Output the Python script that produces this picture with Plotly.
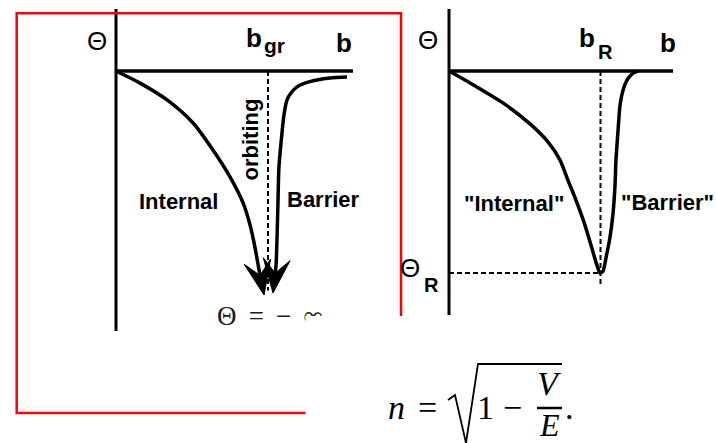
import math
import plotly.graph_objects as go

W, H = 716, 443
SANS = "Liberation Sans, Arial, sans-serif"
SERIF = "Liberation Serif, Times New Roman, serif"

# ---------------- left panel: deflection with orbiting at b_gr ----------------
int_b = [0.000, 0.158, 0.336, 0.507, 0.638, 0.750, 0.836, 0.882, 0.914, 0.941, 0.974]
int_theta = [0.000, -0.054, -0.129, -0.232, -0.353, -0.473, -0.589, -0.688, -0.786, -0.888, -1.000]
bar_b = [1.520, 1.408, 1.322, 1.243, 1.191, 1.151, 1.125, 1.105, 1.092, 1.072, 1.066, 1.059, 1.053, 1.033]
bar_theta = [-0.027, -0.031, -0.040, -0.054, -0.071, -0.098, -0.129, -0.196, -0.277, -0.429, -0.576,
             -0.754, -0.866, -0.991]
b_gr = 1.0
left_b_end = 1.559
left_theta_top, left_theta_bottom = 0.277, -1.161
left_dash_end = -0.98

# ---------------- right panel: rainbow at (b_R, Theta_R) ----------------
rb_b = [0.000, 0.139, 0.356, 0.535, 0.653, 0.733, 0.785, 0.838, 0.891, 0.937, 0.970, 0.997,
        1.017, 1.036, 1.063, 1.083, 1.096, 1.102, 1.116, 1.129, 1.149, 1.175, 1.208, 1.248]
rb_theta = [0.000, -0.059, -0.158, -0.262, -0.351, -0.441, -0.540, -0.639, -0.748, -0.861, -0.946,
            -1.000, -0.990, -0.926, -0.822, -0.703, -0.564, -0.441, -0.292, -0.168, -0.094, -0.045,
            -0.015, 0.000]
b_R = 1.0
theta_R = -1.0
right_b_end = 1.479
right_theta_top, right_theta_bottom = 0.307, -1.208
right_dash_end = -1.069

# axis ranges (both panels share the full canvas, overlaid)
LX, LY = (-0.7632, 3.9474), (-1.6607, 0.3170)
RX, RY = (-2.9637, 1.7624), (-1.8416, 0.3515)


def to_px(b, t, xr, yr):
    return (b - xr[0]) / (xr[1] - xr[0]) * W, (yr[1] - t) / (yr[1] - yr[0]) * H


def from_px(x, y, xr, yr):
    return xr[0] + x / W * (xr[1] - xr[0]), yr[1] - y / H * (yr[1] - yr[0])


def arrowhead(bs, ts, xr, yr, length=34, notch=20, half=13.5):
    """Barbed arrowhead at the end of a curve; returns polygon and notch point."""
    x1, y1 = to_px(bs[-2], ts[-2], xr, yr)
    x2, y2 = to_px(bs[-1], ts[-1], xr, yr)
    dx, dy = x2 - x1, y2 - y1
    n = math.hypot(dx, dy)
    dx, dy = dx / n, dy / n
    nx, ny = -dy, dx
    pts = [(x2, y2),
           (x2 - length * dx + half * nx, y2 - length * dy + half * ny),
           (x2 - notch * dx, y2 - notch * dy),
           (x2 - length * dx - half * nx, y2 - length * dy - half * ny),
           (x2, y2)]
    poly = [from_px(px, py, xr, yr) for px, py in pts]
    return [p[0] for p in poly], [p[1] for p in poly], poly[2]


fig = go.Figure()
BLACK = "#000000"
DASH = "5px,3px"


def line(xs, ys, axes, width=3, dash=None, shape="linear", smooth=None):
    ln = dict(color=BLACK, width=width, shape=shape)
    if dash:
        ln["dash"] = dash
    if smooth is not None:
        ln["smoothing"] = smooth
    fig.add_trace(go.Scatter(x=xs, y=ys, mode="lines", line=ln, xaxis=axes[0], yaxis=axes[1],
                             hoverinfo="skip"))


L = ("x", "y")
R = ("x2", "y2")

# left panel axes
line([0, 0], [left_theta_top, left_theta_bottom], L, width=3)
line([0, left_b_end], [0, 0], L, width=3.5)
# orbiting line
line([b_gr, b_gr], [0, left_dash_end], L, width=2, dash=DASH)

# internal and barrier branches with arrowheads toward Theta = -inf
for bs, ts in ((int_b, int_theta), (bar_b, bar_theta)):
    hx, hy, nt = arrowhead(bs, ts, LX, LY)
    line(list(bs[:-1]) + [nt[0]], list(ts[:-1]) + [nt[1]], L, width=3.5, shape="spline", smooth=0.8)
    fig.add_trace(go.Scatter(x=hx, y=hy, mode="lines", fill="toself", fillcolor=BLACK,
                             line=dict(color=BLACK, width=1), xaxis="x", yaxis="y", hoverinfo="skip"))

# Theta = -inf caption
fig.add_trace(go.Scatter(x=[0.665], y=[-1.103], mode="text",
                         text=["Θ\u00a0\u2009=\u00a0\u2009−\u00a0\u2009∞"],
                         textposition="middle right", xaxis="x", yaxis="y", hoverinfo="skip",
                         textfont=dict(family=SERIF, size=27, color="#1a1a1a")))

# right panel axes
line([0, 0], [right_theta_top, right_theta_bottom], R, width=3)
line([0, right_b_end], [0, 0], R, width=3.5)
# rainbow guides
line([b_R, b_R], [0, right_dash_end], R, width=2, dash=DASH)
line([0, b_R], [theta_R, theta_R], R, width=2, dash=DASH)
# deflection function
line(rb_b, rb_theta, R, width=3.5, shape="spline", smooth=0.6)


def P(x, y):
    return x / W, 1 - y / H


annotations = []


def label(text, x, y, size, family=SANS, angle=0, xanchor="center", color=BLACK):
    px, py = P(x, y)
    annotations.append(dict(text=text, x=px, y=py, xref="paper", yref="paper", showarrow=False,
                            xanchor=xanchor, yanchor="middle", textangle=angle,
                            font=dict(family=family, size=size, color=color)))


# left panel labels
label("Θ", 97, 41, 26)
label("<b>b</b>", 254, 38, 26)
label("<b>gr</b>", 274, 45, 21)
label("<b>b</b>", 344, 43, 26)
label("<b>orbiting</b>", 250.5, 140, 22, angle=-90)
label("<b>Internal</b>", 178.5, 201, 22)
label("<b>Barrier</b>", 323.5, 200, 22)

# right panel labels
label("Θ", 428, 40, 26)
label("<b>b</b>", 587, 38, 26)
label("<b>R</b>", 605, 52, 20)
label("<b>b</b>", 668, 43, 26)
label("<b>\"Internal\"</b>", 513.5, 203, 22)
label("<b>\"Barrier\"</b>", 667.5, 202, 22)
label("Θ", 410, 268, 26)
label("<b>R</b>", 431, 285, 20)

# refractive index formula
label("<i>n</i>", 396, 407, 34, family=SERIF)
label("=", 427, 407, 34, family=SERIF)
label("1", 485, 407, 34, family=SERIF)
label("−", 512, 407, 34, family=SERIF)
label("<i>V</i>", 549, 383, 34, family=SERIF)
label("<i>E</i>", 549, 425, 32, family=SERIF)
label(".", 563, 407, 34, family=SERIF, xanchor="left")


def path(points):
    return "M " + " L ".join(f"{x / W:.5f},{1 - y / H:.5f}" for x, y in points)


shapes = [
    # red frame
    dict(type="rect", xref="paper", yref="paper", x0=16.7 / W, x1=401 / W, y0=1 - 13.3 / H, y1=1 - 413 / H,
         line=dict(color="#ff0000", width=2.5), layer="above"),
    # white panel carrying the formula
    dict(type="rect", xref="paper", yref="paper", x0=305.5 / W, x1=1.0, y0=0.0, y1=1 - 316 / H,
         line=dict(width=0), fillcolor="white", layer="above"),
    # radical sign
    dict(type="path", xref="paper", yref="paper", path=path([(448, 400), (455, 395), (466, 443), (478, 364), (562, 364)]),
         line=dict(color=BLACK, width=1.8), layer="above"),
    # fraction bar
    dict(type="line", xref="paper", yref="paper", x0=537 / W, x1=562 / W, y0=1 - 408 / H, y1=1 - 408 / H,
         line=dict(color=BLACK, width=2.5), layer="above"),
]

axis_common = dict(visible=False, showgrid=False, zeroline=False, fixedrange=True, domain=[0, 1])
fig.update_layout(
    width=W, height=H, autosize=False,
    margin=dict(l=0, r=0, t=0, b=0, pad=0),
    paper_bgcolor="white", plot_bgcolor="white", showlegend=False,
    xaxis=dict(range=list(LX), anchor="y", **axis_common),
    yaxis=dict(range=list(LY), anchor="x", **axis_common),
    xaxis2=dict(range=list(RX), anchor="y2", overlaying="x", **axis_common),
    yaxis2=dict(range=list(RY), anchor="x2", overlaying="y", **axis_common),
    annotations=annotations,
    shapes=shapes,
)

fig.write_html("out.html", include_plotlyjs=True, config={"displayModeBar": False})
